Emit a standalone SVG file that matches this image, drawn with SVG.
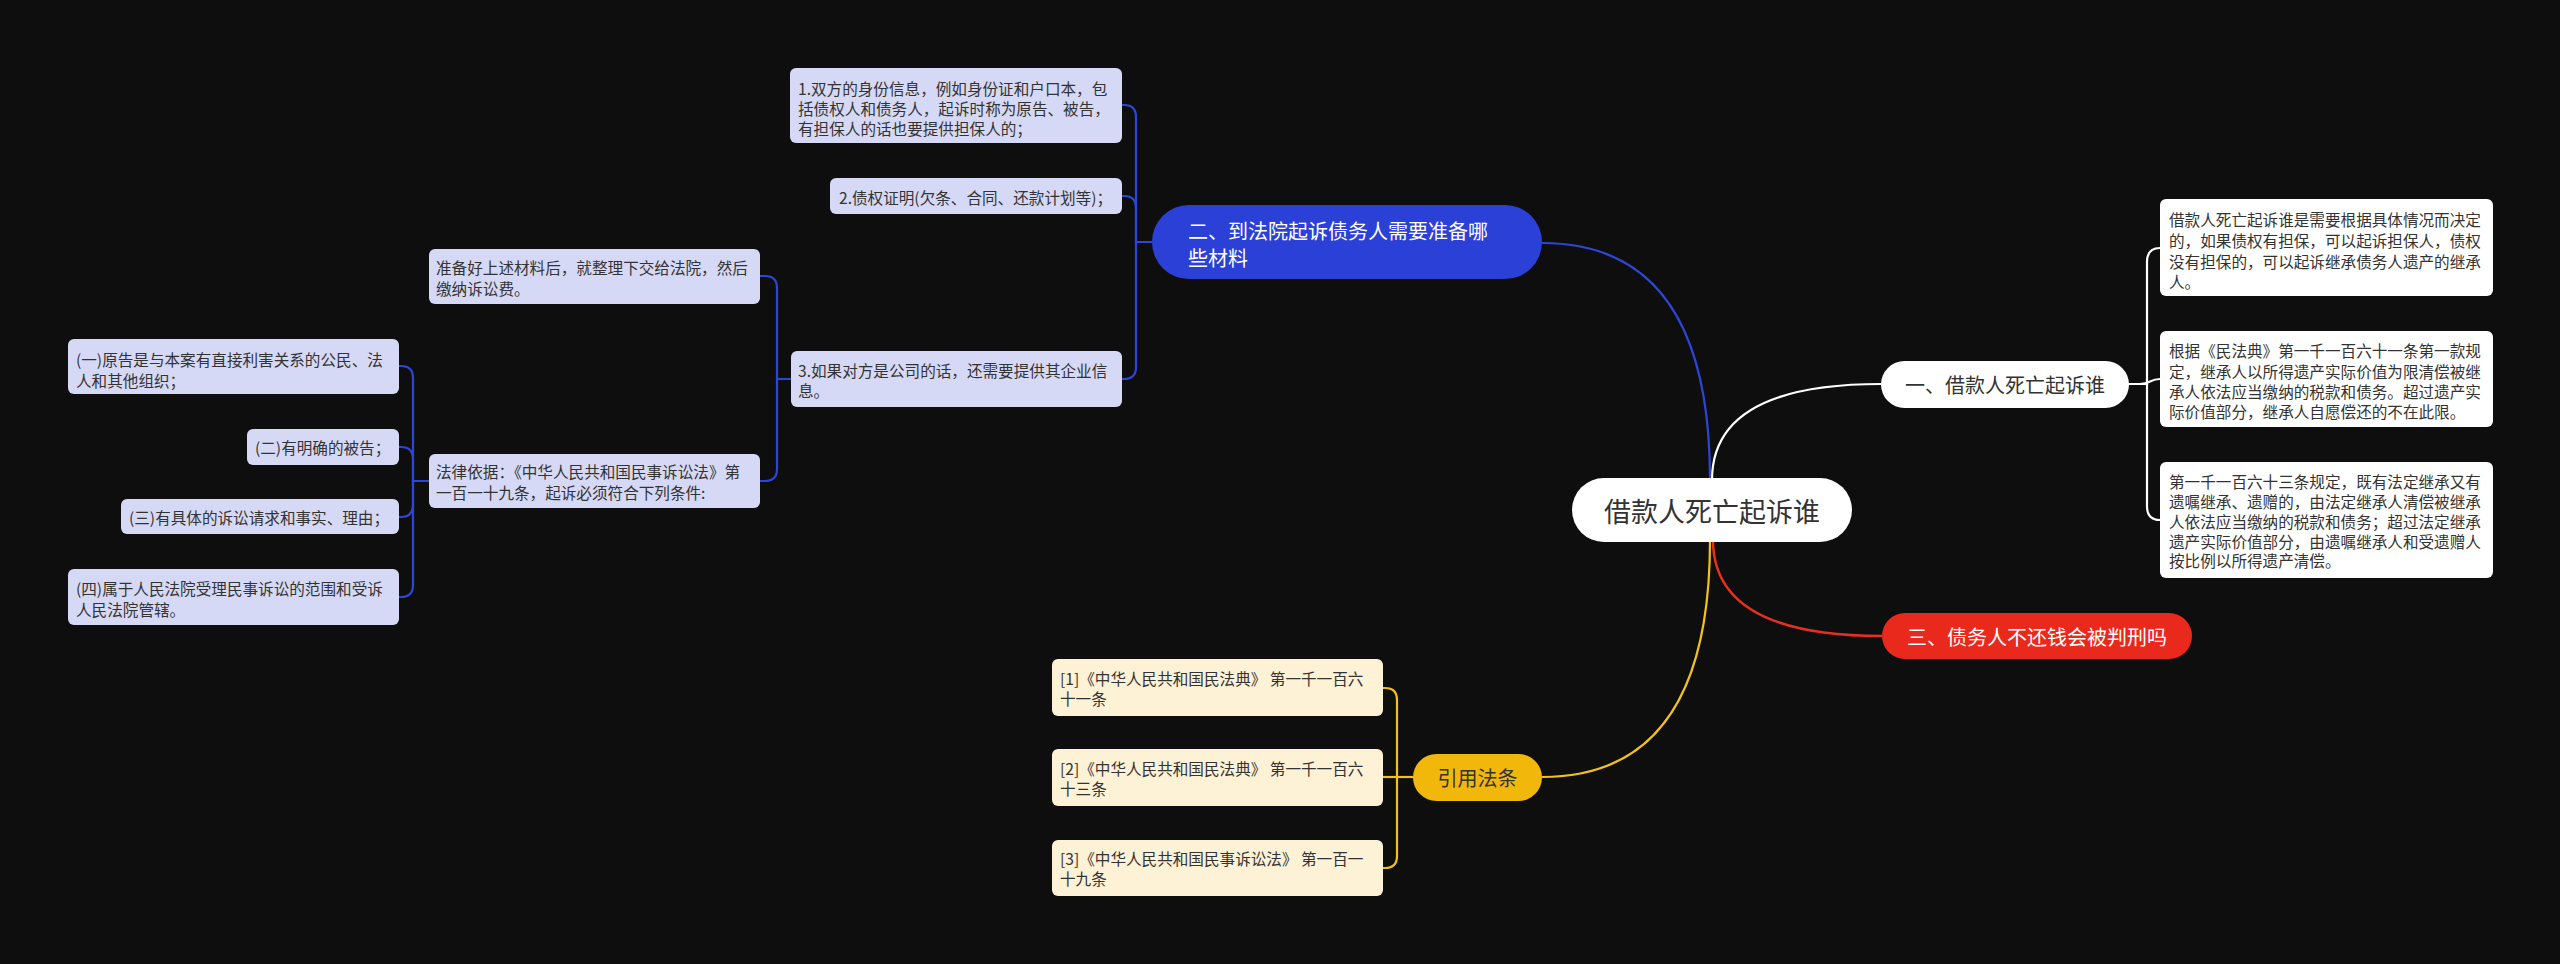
<svg xmlns="http://www.w3.org/2000/svg" width="2560" height="964" viewBox="0 0 2560 964">
<style>
text{font-family:"Noto Sans CJK SC","Noto Sans",sans-serif;dominant-baseline:central}
.s{font-size:15.6px;fill:#333}
.m{font-size:20px}
.lav{fill:#d6d9f6}
.wh{fill:#ffffff}
.cr{fill:#fdf1d6}
.cb{fill:none;stroke:#2f45d6;stroke-width:2.2}
.cw{fill:none;stroke:#ffffff;stroke-width:2.2}
.cy{fill:none;stroke:#f2c21b;stroke-width:2.2}
.cr2{fill:none;stroke:#e8301f;stroke-width:2.4}
</style>
<rect x="0" y="0" width="2560" height="964" fill="#0e0e0e"/>
<g id="connectors">
<path class="cb" d="M1710,480 Q1710,243 1542,243"/>
<path class="cw" d="M1712,480 Q1712,384 1881,384"/>
<path class="cr2" d="M1713,540 Q1713,636 1882,636"/>
<path class="cy" d="M1710,540 Q1710,777 1542,777"/>
<path class="cb" d="M1152,242 H1136 V117 Q1136,105 1124,105 H1122"/>
<path class="cb" d="M1152,242 H1136 V208 Q1136,196 1124,196 H1122"/>
<path class="cb" d="M1152,242 H1136 V367 Q1136,379 1124,379 H1122"/>
<path class="cb" d="M791,379 H777 V288 Q777,276 765,276 H760"/>
<path class="cb" d="M791,379 H777 V469 Q777,481 765,481 H760"/>
<path class="cb" d="M429,481 H413 V378 Q413,366 401,366 H399"/>
<path class="cb" d="M429,481 H413 V459 Q413,447 401,447 H399"/>
<path class="cb" d="M429,481 H413 V505 Q413,517 401,517 H399"/>
<path class="cb" d="M429,481 H413 V585 Q413,597 401,597 H399"/>
<path class="cy" d="M1413,777 H1397 V700 Q1397,688 1385,688 H1383"/>
<path class="cy" d="M1413,777 H1383"/>
<path class="cy" d="M1413,777 H1397 V856 Q1397,868 1385,868 H1383"/>
<path class="cw" d="M2129,384 H2147 V262 Q2147,248 2160,248"/>
<path class="cw" d="M2129,384 H2140 C2150,384 2150,379 2160,379"/>
<path class="cw" d="M2129,384 H2147 V506 Q2147,520 2160,520"/>
</g>
<g id="root">
<rect x="1572" y="478" width="280" height="64" rx="32" fill="#ffffff"/>
<text x="1712" y="510" text-anchor="middle" font-size="27" fill="#333">借款人死亡起诉谁</text>
</g>
<g id="b1">
<rect x="1881" y="361" width="248" height="47" rx="23.5" fill="#ffffff"/>
<text class="m" x="2005" y="384.5" text-anchor="middle" fill="#333">一、借款人死亡起诉谁</text>
</g>
<g id="b2">
<rect x="1152" y="205" width="390" height="74" rx="37" fill="#2b40d6"/>
<text class="m" x="1188" y="230" fill="#ffffff">二、到法院起诉债务人需要准备哪</text>
<text class="m" x="1188" y="257" fill="#ffffff">些材料</text>
</g>
<g id="b3">
<rect x="1882" y="613" width="310" height="46" rx="23" fill="#e8291b"/>
<text class="m" x="2037" y="636" text-anchor="middle" fill="#ffffff">三、债务人不还钱会被判刑吗</text>
</g>
<g id="b4">
<rect x="1413" y="754" width="129" height="47" rx="23.5" fill="#f1b70b"/>
<text class="m" x="1477.5" y="777.5" text-anchor="middle" fill="#333">引用法条</text>
</g>
<g id="leaf1">
<rect class="wh" x="2160" y="199" width="333" height="97" rx="6"/>
<text class="s" x="2169" y="219">借款人死亡起诉谁是需要根据具体情况而决定</text>
<text class="s" x="2169" y="240">的，如果债权有担保，可以起诉担保人，债权</text>
<text class="s" x="2169" y="261">没有担保的，可以起诉继承债务人遗产的继承</text>
<text class="s" x="2169" y="281">人。</text>
</g>
<g id="leaf2">
<rect class="wh" x="2160" y="331" width="333" height="96" rx="6"/>
<text class="s" x="2169" y="350">根据《民法典》第一千一百六十一条第一款规</text>
<text class="s" x="2169" y="371">定，继承人以所得遗产实际价值为限清偿被继</text>
<text class="s" x="2169" y="391">承人依法应当缴纳的税款和债务。超过遗产实</text>
<text class="s" x="2169" y="411">际价值部分，继承人自愿偿还的不在此限。</text>
</g>
<g id="leaf3">
<rect class="wh" x="2160" y="462" width="333" height="116" rx="6"/>
<text class="s" x="2169" y="481">第一千一百六十三条规定，既有法定继承又有</text>
<text class="s" x="2169" y="501">遗嘱继承、遗赠的，由法定继承人清偿被继承</text>
<text class="s" x="2169" y="521">人依法应当缴纳的税款和债务；超过法定继承</text>
<text class="s" x="2169" y="541">遗产实际价值部分，由遗嘱继承人和受遗赠人</text>
<text class="s" x="2169" y="560">按比例以所得遗产清偿。</text>
</g>
<g id="m1">
<rect class="lav" x="790" y="68" width="332" height="75" rx="6"/>
<text class="s" x="798" y="88">1.双方的身份信息，例如身份证和户口本，包</text>
<text class="s" x="798" y="108">括债权人和债务人，起诉时称为原告、被告，</text>
<text class="s" x="798" y="128">有担保人的话也要提供担保人的；</text>
</g>
<g id="m2">
<rect class="lav" x="830" y="178" width="292" height="36" rx="6"/>
<text class="s" x="839" y="196.5">2.债权证明(欠条、合同、还款计划等)；</text>
</g>
<g id="m3">
<rect class="lav" x="791" y="351" width="331" height="56" rx="6"/>
<text class="s" x="798" y="370">3.如果对方是公司的话，还需要提供其企业信</text>
<text class="s" x="798" y="390">息。</text>
</g>
<g id="m4">
<rect class="lav" x="429" y="249" width="331" height="55" rx="6"/>
<text class="s" x="436" y="267">准备好上述材料后，就整理下交给法院，然后</text>
<text class="s" x="436" y="288">缴纳诉讼费。</text>
</g>
<g id="m5">
<rect class="lav" x="429" y="454" width="331" height="54" rx="6"/>
<text class="s" x="436" y="471">法律依据：《中华人民共和国民事诉讼法》第</text>
<text class="s" x="436" y="492">一百一十九条，起诉必须符合下列条件:</text>
</g>
<g id="n1">
<rect class="lav" x="68" y="339" width="331" height="55" rx="6"/>
<text class="s" x="76" y="359">(一)原告是与本案有直接利害关系的公民、法</text>
<text class="s" x="76" y="380">人和其他组织；</text>
</g>
<g id="n2">
<rect class="lav" x="247" y="429" width="152" height="36" rx="6"/>
<text class="s" x="255" y="447">(二)有明确的被告；</text>
</g>
<g id="n3">
<rect class="lav" x="121" y="499" width="278" height="35" rx="6"/>
<text class="s" x="129" y="517">(三)有具体的诉讼请求和事实、理由；</text>
</g>
<g id="n4">
<rect class="lav" x="68" y="569" width="331" height="56" rx="6"/>
<text class="s" x="76" y="588">(四)属于人民法院受理民事诉讼的范围和受诉</text>
<text class="s" x="76" y="609">人民法院管辖。</text>
</g>
<g id="c1">
<rect class="cr" x="1052" y="659" width="331" height="57" rx="6"/>
<text class="s" x="1060" y="678">[1]《中华人民共和国民法典》 第一千一百六</text>
<text class="s" x="1060" y="698">十一条</text>
</g>
<g id="c2">
<rect class="cr" x="1052" y="749" width="331" height="57" rx="6"/>
<text class="s" x="1060" y="768">[2]《中华人民共和国民法典》 第一千一百六</text>
<text class="s" x="1060" y="788">十三条</text>
</g>
<g id="c3">
<rect class="cr" x="1052" y="840" width="331" height="56" rx="6"/>
<text class="s" x="1060" y="858">[3]《中华人民共和国民事诉讼法》 第一百一</text>
<text class="s" x="1060" y="878">十九条</text>
</g>
</svg>
